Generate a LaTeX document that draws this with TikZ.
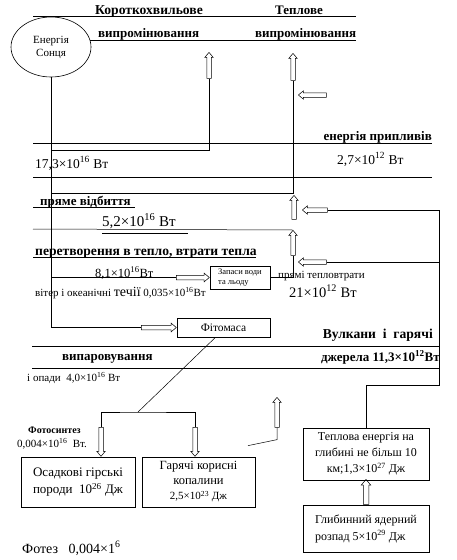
\documentclass[tikz,border=0pt]{standalone}
\usepackage{fontspec}
\setmainfont{Liberation Serif}
\usetikzlibrary{shapes,arrows}

\tikzset{
  rule/.style={line width=0.8pt},
  conn/.style={line width=0.5pt},
  blk/.style={draw, line width=0.6pt, inner sep=2pt},
  harrow/.style={single arrow, draw, line width=0.5pt, inner xsep=0pt, inner ysep=2pt,
    minimum width=8pt, single arrow head extend=2pt,
    single arrow tip angle=80, single arrow head indent=0pt},
  hd/.style={font=\bfseries\fontsize{13}{15}\selectfont, inner sep=0pt, anchor=base west},
  hdl/.style={hd, font=\bfseries\fontsize{13.6}{15}\selectfont},
  tx/.style={font=\fontsize{13.5}{15}\selectfont, inner sep=0pt, anchor=base west},
  sm/.style={font=\fontsize{11}{13}\selectfont, inner sep=0pt, anchor=base west},
}
\newcommand{\sx}[1]{\textsuperscript{#1}}

\begin{document}
\begin{tikzpicture}[x=1pt,y=-1pt]
\useasboundingbox (0,0) rectangle (456,560);

% horizontal rules
\foreach \ya/\xa/\xb in {16/33/356, 40/90/356, 143/33/432, 177/33/432,
    207/33/135, 233/102/188, 257/33/256, 346/32/440, 368/32/440}
  \draw[rule] (\xa,\ya) -- (\xb,\ya);

% headings
\node[hdl] (sw) at (95,14) {Короткохвильове};
\node[hd] (th) at (275,14) {Теплове};
\node[hd] (rad1) at (98,37) {випромінювання};
\node[hd] (rad2) at (255,37) {випромінювання};
\node[hd, anchor=base east] (tide) at (432,140) {енергія припливів};
\node[hd] (refl) at (40,205) {пряме відбиття};
\node[hdl] (conv) at (35,255) {перетворення в тепло, втрати тепла};
\node[hdl, anchor=base east] (volc) at (433,338) {Вулкани\ \ і\ \ гарячі};
\node[hd, anchor=base east] (src) at (440,361) {джерела 11,3×10\sx{12}Вт};
\node[hd] (evap) at (62,360) {випаровування};

% values
\node[tx] (v1) at (35,168) {17,3×10\sx{16} Вт};
\node[tx] (v2) at (337,164) {2,7×10\sx{12} Вт};
\node[tx, font=\fontsize{15}{17}\selectfont] (v3) at (102,226) {5,2×10\sx{16} Вт};
\node[sm, font=\fontsize{12.5}{14}\selectfont] (v4) at (95,277) {8,1×10\sx{16}Вт};
\node[sm] (wind) at (35,296) {вітер і океанічні {\fontsize{14}{15}\selectfont течії} 0,035×10\sx{16}Вт};
\node[sm] (loss) at (278,278) {прямі тепловтрати};
\node[tx, font=\fontsize{14.5}{16}\selectfont] (v5) at (289,297) {21×10\sx{12} Вт};
\node[sm] (rain) at (27,381) {і опади\ \ 4,0×10\sx{16} Вт};
\node[sm, font=\bfseries\fontsize{10}{12}\selectfont] (ph) at (28,433) {Фотосинтез};
\node[sm] (phv) at (17,447) {0,004×10\sx{16}\ \ Вт.};
\node[tx, font=\fontsize{14}{16}\selectfont] (phb) at (22,553) {Фотез\ \ \ 0,004×1\sx{6}};

% blocks
\node[ellipse, draw, line width=0.6pt, minimum width=80pt, minimum height=60pt,
  align=center, font=\fontsize{11}{13}\selectfont] (sun) at (51,47) {Енергія\\Сонця};
\node[blk, minimum width=93pt, minimum height=19pt, font=\fontsize{11.5}{13}\selectfont]
  (bio) at (223.5,327.5) {Фітомаса};
\node[blk, minimum width=60pt, minimum height=23pt, align=left,
  font=\fontsize{8.5}{10}\selectfont] (ice) at (240,277.5) {Запаси води\\та льоду};
\node[blk, minimum width=114pt, minimum height=50pt, align=left,
  font=\fontsize{13}{17}\selectfont] (rock) at (78,482) {Осадкові гірські\\породи\ \ 10\sx{26} Дж};
\node[blk, minimum width=113pt, minimum height=50pt, align=center,
  font=\fontsize{12.5}{15}\selectfont] (fuel) at (198.5,482)
  {Гарячі корисні\\копалини\\{\fontsize{11}{13}\selectfont 2,5×10\sx{23} Дж}};
\node[blk, minimum width=126pt, minimum height=52pt, align=center,
  font=\fontsize{12}{16}\selectfont] (heat) at (366,454)
  {Теплова енергія на\\глибині не більш 10\\км;1,3×10\sx{27} Дж};
\node[blk, minimum width=126pt, minimum height=47pt, align=left,
  font=\fontsize{12}{17}\selectfont] (deep) at (366,528.5)
  {Глибинний ядерний\\розпад 5×10\sx{29} Дж};

% hollow arrows
\node[harrow, rotate=90, minimum height=26pt, anchor=tip] (a1) at (209,52) {};
\node[harrow, rotate=90, minimum height=27pt, anchor=tip] (a2) at (293,53) {};
\node[harrow, rotate=180, minimum height=28pt, anchor=tip] (a3) at (298,95) {};
\node[harrow, rotate=90, minimum height=24pt, anchor=tip] (a4) at (294,195) {};
\node[harrow, rotate=180, minimum height=25pt, anchor=tip] (a5) at (302,210) {};
\node[harrow, rotate=90, minimum height=25pt, anchor=tip] (a6) at (293,230) {};
\node[harrow, rotate=180, minimum height=28pt, anchor=tip] (a7) at (298,262) {};
\node[harrow, minimum height=33pt, anchor=tip] (a8) at (ice.west) {};
\node[harrow, minimum height=35pt, anchor=tip] (a9) at (bio.west) {};
\node[harrow, rotate=-90, minimum height=29pt, anchor=tip] (a10) at (rock.north -| 101,0) {};
\node[harrow, rotate=-90, minimum height=29pt, anchor=tip] (a11) at (fuel.north -| 195,0) {};
\node[harrow, rotate=90, minimum height=30pt, anchor=tip] (a12) at (277,397) {};
\node[harrow, rotate=90, minimum height=25pt, minimum width=9.5pt, inner ysep=2.5pt, anchor=tail] (a13) at (deep.north) {};

% connectors
\coordinate (rloop) at (439,385);
\coordinate (fork) at (138,412);
\coordinate (r229) at (33,229);
\draw[conn] (sun.south) |- (a9.tail);
\draw[conn] (sun.south |- 0,150) -| (a1.tail);
\draw[conn] (a2.tail) |- (sun.south |- 0,193);
\draw[conn] (r229) -- (a6.tip);
\draw[conn] (sun.south |- a8.tail) -- (a8.tail);
\draw[conn] (ice.east) -| (a6.tail);
\draw[conn] (heat.north) |- (rloop) |- (a5.tail);
\draw[conn] (a7.tail) -- (rloop |- a7.tail);
\draw[conn] ([xshift=-8pt]bio.south) -- (fork);
\draw[conn] (a10.tail) |- (fork) -| (a11.tail);
\draw[conn] (a12.tail) -- ++(0,12) -- ++(-29,6);

\end{tikzpicture}
\end{document}
